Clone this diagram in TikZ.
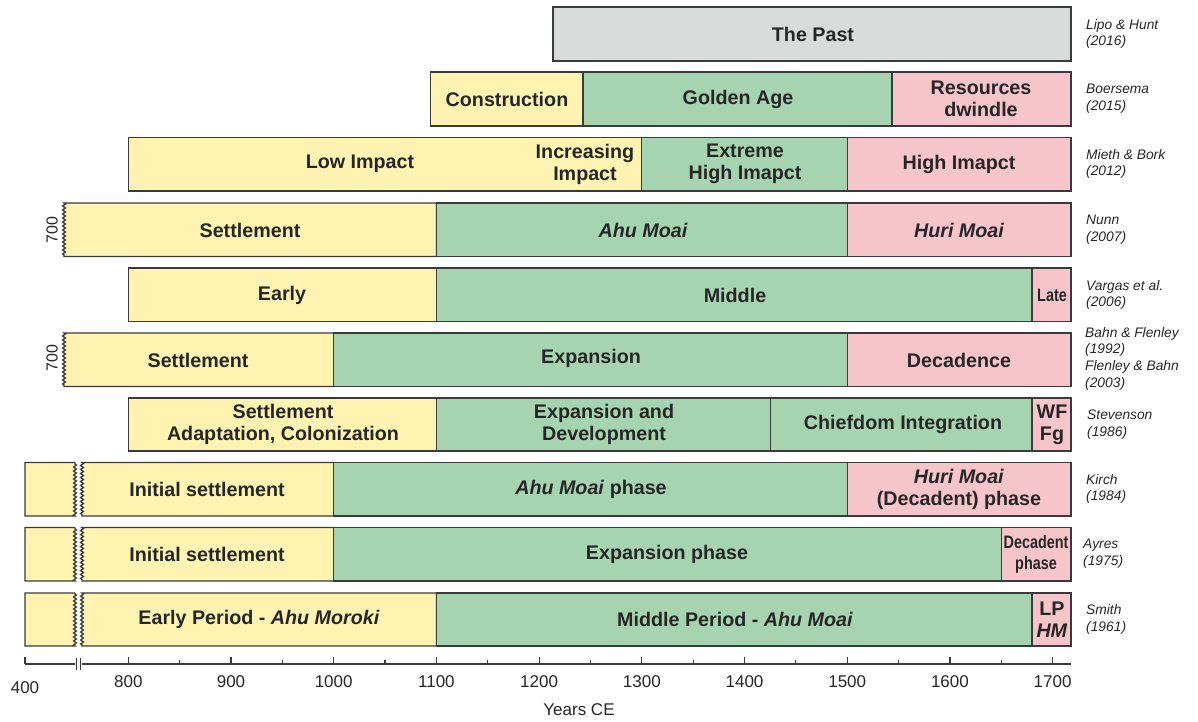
\documentclass[tikz,border=0pt]{standalone}
\usepackage{fontspec}
\setmainfont{Liberation Sans}
\newfontfamily\narrowsf{Liberation Sans}[FakeStretch=0.8]
\usetikzlibrary{decorations.pathmorphing}
\definecolor{yel}{RGB}{255,243,178}
\definecolor{grn}{RGB}{167,212,176}
\definecolor{pnk}{RGB}{246,196,203}
\definecolor{gry}{RGB}{217,218,218}
\definecolor{bord}{RGB}{58,58,58}
\definecolor{txt}{RGB}{38,38,38}
\tikzset{
  cellbox/.style={draw=bord, line width=1.3pt, line join=miter},
  zz/.style={decoration={zigzag, segment length=4pt, amplitude=1.4pt}},
  lab/.style={font=\bfseries\fontsize{19.7}{22}\selectfont, text=txt, align=center, inner sep=0pt},
  narrowlab/.style={font=\narrowsf\bfseries\fontsize{18}{21}\selectfont, text=txt, align=center, inner sep=0pt},
  ref/.style={font=\itshape\fontsize{13.8}{16.7}\selectfont, text=txt, align=left, anchor=west, inner sep=0pt},
  axlab/.style={font=\fontsize{17}{20}\selectfont, text=txt, inner sep=0pt},
  axline/.style={draw=bord, line width=1.2pt}
}
\begin{document}
\begin{tikzpicture}[x=1pt,y=-1pt]
\useasboundingbox (0,0) rectangle (1198,722);
\fill[white] (0,0) rectangle (1198,722);

% Row 1: Lipo & Hunt
\draw[cellbox, fill=gry] (553,7) rectangle (1071,61);
\node[lab] (r1a) at (813,34) {The Past};
\node[ref] (r1r) at (1086,34) {Lipo \& Hunt\\(2016)};

% Row 2: Boersema
\draw[cellbox, fill=yel] (430.7,72) rectangle (583,126);
\draw[cellbox, fill=grn] (583,72) rectangle (892,126);
\draw[cellbox, fill=pnk] (892,72) rectangle (1071,126);
\node[lab] (r2a) at (507,99) {Construction};
\node[lab] (r2b) at (738,99) {Golden Age};
\node[lab] (r2c) at (981,99) {Resources\\dwindle};
\node[ref] (r2r) at (1086,99) {Boersema\\(2015)};

% Row 3: Mieth & Bork
\draw[cellbox, fill=yel] (128.3,137.5) rectangle (641.8,191);
\draw[cellbox, fill=grn] (641.8,137.5) rectangle (847.2,191);
\draw[cellbox, fill=pnk] (847.2,137.5) rectangle (1071,191);
\node[lab] (r3a) at (360,164) {Low Impact};
\node[lab] (r3b) at (585,164) {Increasing\\Impact};
\node[lab] (r3c) at (745,164) {Extreme\\High Imapct};
\node[lab] (r3d) at (959,164) {High Imapct};
\node[ref] (r3r) at (1086,164) {Mieth \& Bork\\(2012)};

% Row 4: Nunn
\draw[cellbox, fill=yel] (436.4,203) -- (64,203) decorate[zz]{-- (64,256.5)} -- (436.4,256.5) -- cycle;
\draw[cellbox, fill=grn] (436.4,203) rectangle (847.2,256.5);
\draw[cellbox, fill=pnk] (847.2,203) rectangle (1071,256.5);
\node[lab] (r4a) at (250,230) {Settlement};
\node[lab] (r4b) at (643,230) {\itshape Ahu Moai};
\node[lab] (r4c) at (959,230) {\itshape Huri Moai};
\node[axlab, rotate=90, font=\fontsize{16}{18}\selectfont] (r4y) at (52,230) {700};
\node[ref] (r4r) at (1086,230) {Nunn\\(2007)};

% Row 5: Vargas et al.
\draw[cellbox, fill=yel] (128.3,268) rectangle (436.4,321.5);
\draw[cellbox, fill=grn] (436.4,268) rectangle (1032.1,321.5);
\draw[cellbox, fill=pnk] (1032.1,268) rectangle (1071,321.5);
\node[lab] (r5a) at (282,295) {Early};
\node[lab] (r5b) at (735,295) {Middle};
\node[narrowlab] (r5c) at (1052,295) {Late};
\node[ref] (r5r) at (1086,295) {Vargas et al.\\(2006)};

% Row 6: Bahn & Flenley
\draw[cellbox, fill=yel] (333.7,333) -- (64,333) decorate[zz]{-- (64,386.5)} -- (333.7,386.5) -- cycle;
\draw[cellbox, fill=grn] (333.7,333) rectangle (847.2,386.5);
\draw[cellbox, fill=pnk] (847.2,333) rectangle (1071,386.5);
\node[lab] (r6a) at (198,360) {Settlement};
\node[lab] (r6b) at (591,358) {Expansion};
\node[lab] (r6c) at (959,360) {Decadence};
\node[axlab, rotate=90, font=\fontsize{16}{18}\selectfont] (r6y) at (52,358) {700};
\node[ref] (r6r) at (1085,358.5) {Bahn \& Flenley\\(1992)\\Flenley \& Bahn\\(2003)};

% Row 7: Stevenson
\draw[cellbox, fill=yel] (128.3,398) rectangle (436.4,451);
\draw[cellbox, fill=grn] (436.4,398) rectangle (770.2,451);
\draw[cellbox, fill=grn] (770.2,398) rectangle (1032.1,451);
\draw[cellbox, fill=pnk] (1032.1,398) rectangle (1071,451);
\node[lab] (r7a) at (283,424.5) {Settlement\\Adaptation, Colonization};
\node[lab] (r7b) at (604,424.5) {Expansion and\\Development};
\node[lab] (r7c) at (903,424.5) {Chiefdom Integration};
\node[lab] (r7d) at (1052,424.5) {WF\\Fg};
\node[ref] (r7r) at (1087,424.5) {Stevenson\\(1986)};

% Row 8: Kirch
\draw[cellbox, fill=yel] (75,462.5) -- (25,462.5) -- (25,516) -- (75,516) decorate[zz]{-- (75,462.5)};
\draw[cellbox, fill=yel] (333.7,462.5) -- (82,462.5) decorate[zz]{-- (82,516)} -- (333.7,516) -- cycle;
\draw[cellbox, fill=grn] (333.7,462.5) rectangle (847.2,516);
\draw[cellbox, fill=pnk] (847.2,462.5) rectangle (1071,516);
\node[lab] (r8a) at (207,489) {Initial settlement};
\node[lab] (r8b) at (591,489) {\textit{Ahu Moai} phase};
\node[lab] (r8c) at (959,489) {\textit{Huri Moai}\\(Decadent) phase};
\node[ref] (r8r) at (1086,489) {Kirch\\(1984)};

% Row 9: Ayres
\draw[cellbox, fill=yel] (75,527.5) -- (25,527.5) -- (25,581) -- (75,581) decorate[zz]{-- (75,527.5)};
\draw[cellbox, fill=yel] (333.7,527.5) -- (82,527.5) decorate[zz]{-- (82,581)} -- (333.7,581) -- cycle;
\draw[cellbox, fill=grn] (333.7,527.5) rectangle (1001.3,581);
\draw[cellbox, fill=pnk] (1001.3,527.5) rectangle (1071,581);
\node[lab] (r9a) at (207,554) {Initial settlement};
\node[lab] (r9b) at (667,554) {Expansion phase};
\node[narrowlab] (r9c) at (1036,554) {Decadent\\phase};
\node[ref] (r9r) at (1083,554) {Ayres\\(1975)};

% Row 10: Smith
\draw[cellbox, fill=yel] (75,593) -- (25,593) -- (25,646) -- (75,646) decorate[zz]{-- (75,593)};
\draw[cellbox, fill=yel] (436.4,593) -- (82,593) decorate[zz]{-- (82,646)} -- (436.4,646) -- cycle;
\draw[cellbox, fill=grn] (436.4,593) rectangle (1032.1,646);
\draw[cellbox, fill=pnk] (1032.1,593) rectangle (1071,646);
\node[lab] (r10a) at (259,619.5) {Early Period - \textit{Ahu Moroki}};
\node[lab] (r10b) at (735,619.5) {Middle Period - \textit{Ahu Moai}};
\node[lab] (r10c) at (1052,619.5) {LP\\\textit{HM}};
\node[ref] (r10r) at (1086,619.5) {Smith\\(1961)};

% Axis
\draw[axline] (25,664) -- (75,664);
\draw[axline] (82,664) -- (1071,664);
\draw[axline] (25,657) -- (25,664);
\draw[axline, line width=1pt] (76.5,658) -- (76.5,670);
\draw[axline, line width=1pt] (80.8,658) -- (80.8,670);
\foreach \yr in {800,900,...,1700} {
  \pgfmathsetmacro{\xx}{128.3+(\yr-800)*1.027}
  \draw[axline] (\xx,657) -- (\xx,664);
  \node[axlab] (t\yr) at (\xx,682) {\yr};
}
\foreach \yr in {850,950,...,1650} {
  \pgfmathsetmacro{\xx}{128.3+(\yr-800)*1.027}
  \draw[axline] (\xx,659.5) -- (\xx,664);
}
\node[axlab] (t400) at (25,688) {400};
\node[axlab] (xlabel) at (579,710) {Years CE};
\end{tikzpicture}
\end{document}
